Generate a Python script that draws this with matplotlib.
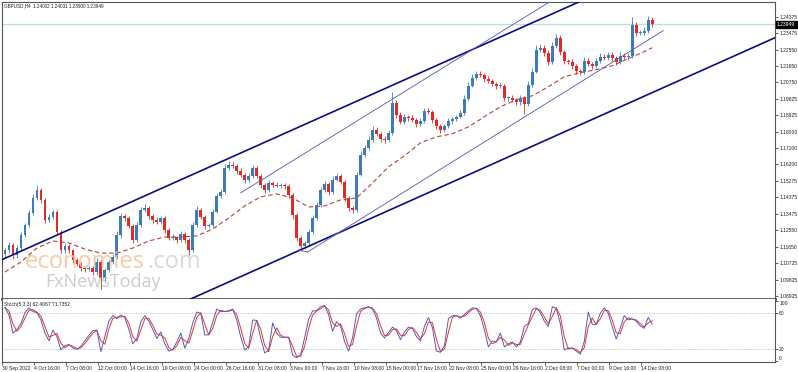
import numpy as np
import pandas as pd
import matplotlib
matplotlib.use('Agg')
import matplotlib.pyplot as plt

# ---------------- data ----------------
symbol_text = "GBPUSD,H4  1.24002 1.24031 1.23900 1.23949"
stoch_text = "Stoch(5,3,3) 62.4067 71.7352"
last_price = 1.23949
first_open = 1.1125

closes = [
    1.1147, 1.1175, 1.1119, 1.1158, 1.1230, 1.1286, 1.1352, 1.1435, 1.1479, 1.1424,
    1.1313, 1.1330, 1.1358, 1.1247, 1.1147, 1.1169, 1.1147, 1.1092, 1.1069, 1.1047,
    1.1042, 1.1047, 1.1025, 1.1081, 1.0992, 1.1036, 1.1081, 1.1108, 1.1230, 1.1335,
    1.1324, 1.1280, 1.1202, 1.1286, 1.1369, 1.1380, 1.1335, 1.1313, 1.1302, 1.1324,
    1.1258, 1.1214, 1.1219, 1.1202, 1.1236, 1.1202, 1.1147, 1.1286, 1.1369, 1.1330,
    1.1280, 1.1286, 1.1358, 1.1446, 1.1468, 1.1601, 1.1618, 1.1612, 1.1585, 1.1563,
    1.1535, 1.1557, 1.1601, 1.1557, 1.1507, 1.1479, 1.1518, 1.1507, 1.1502, 1.1507,
    1.1502, 1.1452, 1.1341, 1.1214, 1.1169, 1.1186, 1.1247, 1.1324, 1.1396, 1.1479,
    1.1513, 1.1468, 1.1535, 1.1557, 1.1524, 1.1435, 1.1380, 1.1369, 1.1563, 1.1673,
    1.1712, 1.1756, 1.1812, 1.1790, 1.1762, 1.1756, 1.1795, 1.1961, 1.1895, 1.1856,
    1.1884, 1.1878, 1.1867, 1.1845, 1.1862, 1.1917, 1.1912, 1.1867, 1.1834, 1.1812,
    1.1834, 1.1862, 1.1873, 1.1884, 1.1906, 1.1984, 1.2056, 1.2100, 1.2122, 1.2117,
    1.2094, 1.2083, 1.2067, 1.2056, 1.2056, 1.1989, 1.1989, 1.1978, 1.1967, 1.1989,
    1.1956, 1.2061, 1.2133, 1.2255, 1.2266, 1.2238, 1.2189, 1.2277, 1.2322, 1.2244,
    1.2194, 1.2189, 1.2166, 1.2139, 1.2133, 1.2194, 1.2177, 1.2166, 1.2194, 1.2216,
    1.2211, 1.2227, 1.2211, 1.2189, 1.2222, 1.2216, 1.2222, 1.2394, 1.2349, 1.2349,
    1.2360, 1.2421, 1.2395,
]

# wick lengths above / below the body, in pips
up_wick = [
    11, 18, 9, 14, 16, 13, 14, 20, 30, 11,
    9, 16, 13, 8, 11, 14, 9, 8, 11, 9,
    8, 13, 9, 24, 11, 14, 9, 16, 20, 18,
    13, 11, 9, 16, 14, 19, 11, 9, 14, 13,
    9, 11, 14, 8, 16, 9, 11, 18, 20, 13,
    11, 9, 14, 18, 16, 24, 19, 16, 11, 13,
    9, 14, 18, 11, 9, 13, 16, 11, 14, 9,
    11, 8, 9, 11, 9, 13, 14, 18, 16, 19,
    14, 11, 20, 18, 13, 9, 11, 9, 16, 20,
    18, 19, 22, 14, 11, 13, 16, 60, 18, 13,
    14, 11, 13, 9, 14, 18, 16, 11, 9, 8,
    11, 13, 9, 11, 14, 18, 20, 19, 16, 14,
    11, 13, 9, 11, 14, 9, 11, 13, 9, 14,
    11, 20, 18, 24, 22, 16, 13, 22, 20, 14,
    11, 9, 13, 11, 9, 19, 14, 11, 16, 18,
    14, 16, 13, 11, 18, 14, 13, 40, 16, 14,
    18, 22, 13,
]
dn_wick = [
    20, 14, 24, 16, 11, 9, 13, 11, 14, 16,
    18, 13, 14, 16, 19, 14, 16, 18, 13, 14,
    16, 11, 18, 14, 60, 16, 13, 11, 9, 14,
    16, 13, 18, 11, 9, 13, 14, 16, 11, 13,
    16, 14, 13, 18, 11, 16, 25, 11, 9, 14,
    16, 13, 11, 9, 13, 11, 9, 14, 16, 13,
    18, 11, 9, 14, 16, 18, 11, 13, 9, 14,
    16, 18, 20, 16, 28, 14, 11, 9, 13, 11,
    9, 16, 11, 9, 14, 18, 16, 20, 11, 9,
    13, 11, 9, 14, 16, 18, 11, 14, 16, 14,
    13, 16, 14, 18, 13, 11, 14, 16, 18, 19,
    14, 13, 16, 11, 9, 13, 11, 9, 13, 14,
    16, 13, 14, 16, 11, 18, 16, 14, 18, 16,
    55, 13, 11, 9, 13, 16, 20, 11, 13, 18,
    16, 14, 18, 16, 20, 13, 14, 16, 11, 13,
    14, 13, 16, 18, 14, 13, 16, 11, 20, 14,
    13, 11, 16,
]

# moving average (dashed), read at every 4th bar
ma_index = list(range(0, 161, 4)) + [162]
ma_values = [
    1.1025, 1.1081, 1.1158, 1.1197, 1.1186, 1.1152, 1.1130, 1.1130, 1.1158, 1.1197,
    1.1219, 1.1219, 1.1225, 1.1263, 1.1324, 1.1391, 1.1441, 1.1457, 1.1435, 1.1385,
    1.1391, 1.1424, 1.1435, 1.1518, 1.1607, 1.1668, 1.1740, 1.1773, 1.1790, 1.1828,
    1.1884, 1.1939, 1.1978, 1.2000, 1.2050, 1.2105, 1.2128, 1.2144, 1.2166, 1.2205,
    1.2244, 1.2266,
]

# stochastic main line
stoch_k = [
    90, 77, 47, 53, 63, 81, 89, 83, 81, 69,
    47, 34, 52, 41, 19, 26, 28, 22, 20, 25,
    34, 43, 51, 52, 16, 41, 67, 76, 71, 77,
    73, 53, 29, 38, 66, 76, 67, 53, 38, 49,
    29, 17, 20, 32, 47, 22, 38, 64, 82, 80,
    44, 44, 65, 87, 83, 83, 84, 87, 69, 41,
    19, 24, 69, 68, 39, 14, 18, 64, 47, 40,
    40, 40, 10, 6, 11, 39, 70, 84, 84, 91,
    93, 78, 50, 66, 59, 33, 17, 39, 79, 87,
    89, 91, 87, 72, 47, 39, 48, 57, 51, 36,
    49, 57, 55, 41, 34, 58, 73, 56, 17, 15,
    26, 71, 76, 76, 72, 78, 84, 89, 88, 76,
    53, 24, 34, 32, 47, 24, 29, 32, 24, 32,
    58, 63, 86, 89, 81, 67, 58, 91, 88, 63,
    19, 22, 22, 17, 12, 33, 82, 62, 61, 80,
    89, 80, 58, 37, 55, 76, 69, 71, 67, 59,
    55, 73, 62,
]

# trend lines: (bar index, price) anchors
thick_upper = [(24, 1.1338), (124, 1.2325)]
thick_lower = [(74, 1.1148), (174, 1.2136)]
thin_upper = [(59, 1.1463), (136, 1.2515)]
thin_lower = [(75.75, 1.1136), (164.75, 1.2360)]
thin_stub = [(73.5, 1.1147), (75.75, 1.1136)]

price_ticks = [1.24375, 1.23475, 1.22550, 1.21650, 1.20750, 1.19825, 1.18925,
               1.18000, 1.17100, 1.16200, 1.15275, 1.14375, 1.13475, 1.12550,
               1.11650, 1.10725, 1.09825, 1.08925]
date_labels = ["30 Sep 2022", "4 Oct 16:00", "7 Oct 08:00", "12 Oct 00:00",
               "14 Oct 16:00", "19 Oct 08:00", "24 Oct 00:00", "26 Oct 16:00",
               "31 Oct 08:00", "3 Nov 00:00", "7 Nov 16:00", "10 Nov 08:00",
               "15 Nov 00:00", "17 Nov 16:00", "22 Nov 08:00", "25 Nov 00:00",
               "29 Nov 16:00", "2 Dec 08:00", "7 Dec 00:00", "9 Dec 16:00",
               "14 Dec 08:00"]

# ---------------- styling ----------------
BULL = '#3f7bb6'
BEAR = '#e8262a'
NAVY = '#0c0c82'
THIN = '#6060b8'
MA_C = '#b0443a'
K_C = '#5a5ab4'
D_C = '#e83434'
SPINE = '#555555'
TXT = '#202020'
small = dict(fontsize=3.6, family='Liberation Sans', color=TXT)

W, H = 798, 372
fig = plt.figure(figsize=(W / 100, H / 100), dpi=100)
fig.patch.set_facecolor('white')


def px_rect(l, t, r, b):
    return [l / W, 1 - b / H, (r - l) / W, (b - t) / H]


ax = fig.add_axes(px_rect(2, 2, 775, 299))
ax2 = fig.add_axes(px_rect(2, 299, 775, 362), sharex=ax)

n = len(closes)
idx = np.arange(n)
c = np.array(closes)
o = np.concatenate([[first_open], c[:-1]])
hi = np.maximum(o, c) + np.array(up_wick) * 1e-4
lo = np.minimum(o, c) - np.array(dn_wick) * 1e-4
colors = np.where(c >= o, BULL, BEAR)

ax.vlines(idx, lo, hi, colors=colors, lw=0.6, zorder=3)
body = np.maximum(np.abs(c - o), 0.00025)
ax.bar(idx, body, bottom=np.minimum(o, c), width=0.7, color=colors,
       linewidth=0, zorder=4)

ax.plot(ma_index, ma_values, color=MA_C, lw=0.8, ls=(0, (4, 2.5)), zorder=2)


def ray(pts, x_from, x_to, color, lw):
    (xa, ya), (xb, yb) = pts
    s = (yb - ya) / (xb - xa)
    xs = np.array([x_from, x_to])
    ax.plot(xs, ya + s * (xs - xa), color=color, lw=lw, zorder=5)


ray(thick_upper, -5, 200, NAVY, 1.2)
ray(thick_lower, 40, 200, NAVY, 1.2)
ray(thin_upper, thin_upper[0][0], 150, THIN, 0.65)
ax.plot([p[0] for p in thin_lower], [p[1] for p in thin_lower], color=THIN, lw=0.65, zorder=5)
ax.plot([p[0] for p in thin_stub], [p[1] for p in thin_stub], color=THIN, lw=0.65, zorder=5)

ax.axhline(last_price, color='#bcdcdc', lw=0.9, zorder=1)

ax.set_xlim(-0.5, 192.75)
ax.set_ylim(1.0876, 1.25188)
ax.yaxis.tick_right()
ax.set_yticks(price_ticks)
ax.set_yticklabels([f'{v:.5f}' for v in price_ticks], **small)
ax.tick_params(axis='y', length=2, width=0.5, pad=1, color=TXT)
ax.tick_params(axis='x', bottom=False, labelbottom=False)
for sp in ax.spines.values():
    sp.set_color(SPINE)
    sp.set_linewidth(0.8)
ax.spines['bottom'].set_linewidth(2.0)

ax.text(0.002, 0.996, symbol_text, transform=ax.transAxes, va='top', ha='left',
        fontsize=3.3, family='Liberation Sans', color=TXT)
ax.annotate(f'{last_price:.5f}', xy=(1, last_price), xycoords=('axes fraction', 'data'),
            xytext=(1.5, 0), textcoords='offset points', va='center', ha='left',
            fontsize=3.6, family='Liberation Sans', color='white',
            bbox=dict(boxstyle='square,pad=0.25', fc='black', ec='black'),
            annotation_clip=False, zorder=10)

# watermark
fig.text(25 / W, 1 - 268 / H, 'economies', fontsize=17, family='Open Sans',
         color='#f4c19c', alpha=0.85, va='baseline', ha='left', zorder=1)
fig.text(147 / W, 1 - 268 / H, '.com', fontsize=17, family='Open Sans',
         color='#d2d2d2', alpha=0.85, va='baseline', ha='left', zorder=1)
fig.text(45 / W, 1 - 287 / H, 'FxNewsToday', fontsize=13, family='Open Sans',
         color='#c4c4c4', alpha=0.85, va='baseline', ha='left', zorder=1)

# stochastic panel
k = pd.Series(stoch_k, dtype=float)
d = k.rolling(2, min_periods=1).mean()
ax2.plot(idx, k, color=K_C, lw=0.7, zorder=3)
ax2.plot(idx, d, color=D_C, lw=0.7, zorder=2)
for lvl in (80, 20):
    ax2.axhline(lvl, color='#a8a8a8', lw=0.5, ls=(0, (1.5, 2)), zorder=1)
ax2.set_ylim(-1.2, 103.8)
ax2.yaxis.tick_right()
ax2.set_yticks([100, 80, 20, 0])
ax2.set_yticklabels(['100', '80', '20', '0'], **small)
labs = ax2.get_yticklabels()
labs[0].set_va('top')
labs[3].set_va('bottom')
ax2.tick_params(axis='y', length=2, width=0.5, pad=1, color=TXT)
tick_pos = np.arange(len(date_labels)) * 8 - 0.75
ax2.set_xticks(tick_pos)
ax2.set_xticklabels(date_labels, ha='left', **small)
ax2.tick_params(axis='x', length=2, width=0.5, pad=1, color=TXT)
for sp in ax2.spines.values():
    sp.set_color(SPINE)
    sp.set_linewidth(0.8)
ax2.spines['top'].set_visible(False)
ax2.text(0.003, 0.955, stoch_text, transform=ax2.transAxes, va='top', ha='left', **small)

fig.savefig('out.png', dpi=100, facecolor='white')
